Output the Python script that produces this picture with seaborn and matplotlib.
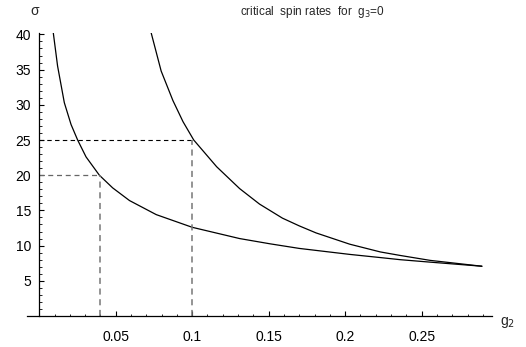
import numpy as np
import pandas as pd
import seaborn as sns
import matplotlib
matplotlib.use("Agg")
import matplotlib.pyplot as plt
from matplotlib.ticker import MultipleLocator, FixedLocator

# 下方曲线
g2_low = [0.0092, 0.012, 0.0164, 0.0208, 0.0251, 0.0306, 0.0393, 0.048, 0.059,
          0.0765, 0.1, 0.131, 0.151, 0.170, 0.203, 0.223, 0.236, 0.2556, 0.2894]
sig_low = [40.2, 35.5, 30.3, 27.2, 25.0, 22.6, 20.0, 18.2, 16.4,
           14.4, 12.6, 11.0, 10.25, 9.6, 8.75, 8.3, 8.0, 7.65, 7.07]
# 上方曲线
g2_up = [0.0732, 0.0797, 0.0874, 0.094, 0.101, 0.116, 0.131, 0.144,
         0.159, 0.170, 0.181, 0.203, 0.223, 0.236, 0.2556, 0.2894]
sig_up = [40.2, 34.8, 30.6, 27.6, 25.0, 21.2, 18.1, 15.9,
          13.9, 12.8, 11.8, 10.2, 9.1, 8.6, 7.9, 7.07]

# 虚线标记点
mark_g2 = [0.04, 0.1]
mark_sig = [20, 25]

x_ticks = [0.05, 0.1, 0.15, 0.2, 0.25]
x_labels = ["0.05", "0.1", "0.15", "0.2", "0.25"]
y_ticks = [5, 10, 15, 20, 25, 30, 35, 40]

sns.set_style("white")
plt.rcParams['font.family'] = ['Liberation Sans', 'DejaVu Sans']

fig = plt.figure(figsize=(5.26, 3.47), dpi=100)
ax = fig.add_axes([27 / 526, 31 / 347, 465 / 526, 283 / 347])

sns.lineplot(x=g2_low, y=sig_low, sort=False, estimator=None, color="black", lw=0.9, ax=ax)
sns.lineplot(x=g2_up, y=sig_up, sort=False, estimator=None, color="black", lw=0.9, ax=ax)

# 虚线
ax.plot([0, mark_g2[1]], [mark_sig[1], mark_sig[1]], ls=(0, (4, 3)), color="black", lw=0.8)
ax.plot([mark_g2[1], mark_g2[1]], [0, mark_sig[1]], ls=(0, (4, 3)), color="#777777", lw=1.1)
ax.plot([0, mark_g2[0]], [mark_sig[0], mark_sig[0]], ls=(0, (4, 3)), color="#666666", lw=0.9)
ax.plot([mark_g2[0], mark_g2[0]], [0, mark_sig[0]], ls=(0, (4, 3)), color="#777777", lw=1.1)

ax.set_xlim(-0.008, 0.296)
ax.set_ylim(0, 40.2)

ax.spines['top'].set_visible(False)
ax.spines['right'].set_visible(False)
ax.spines['left'].set_position(('data', 0))
for s in ['left', 'bottom']:
    ax.spines[s].set_color("black")
    ax.spines[s].set_linewidth(0.9)

ax.xaxis.set_major_locator(FixedLocator(x_ticks))
ax.set_xticklabels(x_labels)
ax.xaxis.set_minor_locator(FixedLocator(np.arange(0.01, 0.295, 0.01)))
ax.yaxis.set_major_locator(FixedLocator(y_ticks))
ax.yaxis.set_minor_locator(MultipleLocator(1))

ax.tick_params(axis='both', which='both', bottom=True, left=True)
ax.tick_params(axis='both', which='major', direction='in', length=3.5, width=0.8,
               colors="black", labelsize=10)
ax.tick_params(axis='both', which='minor', direction='in', length=1.8, width=0.6, colors="black")
ax.tick_params(axis='x', which='major', pad=10)
ax.tick_params(axis='y', which='major', pad=6)

ax.set_xlabel("")
ax.set_ylabel("")

fig.text(35 / 526, 1 - 11 / 347, "σ", fontsize=10, ha="center", va="center")
fig.text(500 / 526, 1 - 322 / 347, "g$_2$", fontsize=10, ha="left", va="center")
fig.text(312 / 526, 1 - 12 / 347, "critical  spin rates  for  g$_3$=0", fontsize=8.5,
         ha="center", va="center")

fig.savefig("out.png", dpi=100)
